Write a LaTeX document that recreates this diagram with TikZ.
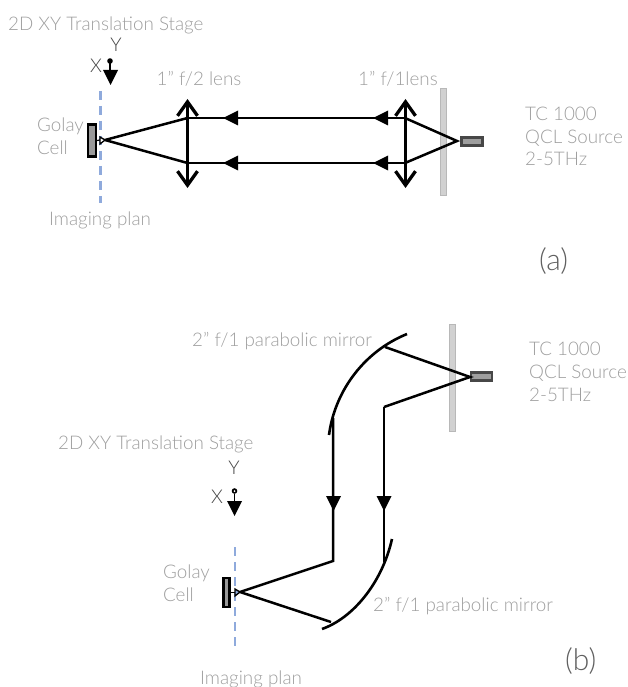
\documentclass[tikz,border=0pt]{standalone}
\usepackage{fontspec}
\setmainfont{Lato Light}
\usetikzlibrary{arrows.meta}
\definecolor{lbl}{HTML}{9E9E9E}
\definecolor{axl}{HTML}{444444}
\definecolor{plane}{HTML}{8FAADC}
\tikzset{
 lab/.style={text=lbl,font=\fontsize{18.8}{22.7}\selectfont,inner sep=0pt,anchor=west,align=left},
 axlab/.style={text=axl,font=\fontsize{19}{20}\selectfont,inner sep=0pt},
 panel/.style={text=axl!85,font=\fontsize{30}{32}\selectfont,inner sep=0pt,anchor=west},
 beam/.style={draw=black,line width=2.5pt},
 lensline/.style={draw=black,line width=3.6pt,{Straight Barb[length=14pt,width=20pt,line width=3.3pt]}-{Straight Barb[length=14pt,width=20pt,line width=3.3pt]}},
 mirror/.style={draw=black,line width=2.6pt},
 filter/.style={draw=black!28,fill=black!18,line width=1.6pt},
 srcbox/.style={draw=black!72,fill=black!38,line width=2.2pt},
 detbox/.style={draw=black,fill=black!40,line width=2.2pt},
 plan/.style={draw=plane,line width=2.6pt,dash pattern=on 9pt off 6pt},
}
\begin{document}
\begin{tikzpicture}[x=1pt,y=-1pt]
\useasboundingbox (0,0) rectangle (627,687);
% ---------- panel (a)
\node[lab] (stageA) at (8,25) {2D XY Translation Stage};
\node[axlab] (yA) at (116,45) {Y};
\node[axlab] (xA) at (96,66) {X};
\coordinate (dotA) at (110,61);
\coordinate (headA) at (110,70);
\fill (dotA) circle (2.8pt);
\draw[line width=1.5pt] (dotA) -- (headA);
\fill (103,70) -- (118,70) -- (110.5,85) -- cycle;
\draw[plan] (100.5,91) -- (100.5,203);
\node[lab] (golayA) at (37,136.5) {Golay\\Cell};
\node[lab] (planA) at (49,220.5) {Imaging plan};
\node[lab] (lensAl) at (156.5,79) {1” f/2 lens};
\node[lab] (lensAr) at (358,79) {1” f/1lens};
\node[lab] (srcA) at (525,136.5) {TC 1000\\QCL Source\\2-5THz};
\node[panel] (a) at (539,261) {(a)};
\node[filter,minimum width=6pt,minimum height=107pt,inner sep=0pt] (barA) at (443.5,142) {};
\node[srcbox,minimum width=21pt,minimum height=8pt,inner sep=0pt] (sourceA) at (472,141.5) {};
\node[detbox,minimum width=8pt,minimum height=32pt,inner sep=0pt] (detA) at (92,140.5) {};
\coordinate (apexA) at (105,140);
\coordinate (srcApexA) at (457,141);
\coordinate (l1t) at (187.5,118);\coordinate (l1b) at (187.5,163);
\coordinate (l2t) at (405,118);\coordinate (l2b) at (405,163);
\draw[lensline] (187.5,99) -- (187.5,188);
\draw[lensline] (405.5,99) -- (405.5,188);
\draw[beam] (l1t) -- (apexA) -- (l1b);
\draw[beam] (l2t) -- (srcApexA) -- (l2b);
\draw[beam] (l2t) -- (l1t);
\draw[beam] (l2b) -- (l1b);
\fill (238,110.5) -- (238,125.5) -- (223,118) -- cycle;
\fill (238,155.5) -- (238,170.5) -- (223,163) -- cycle;
\fill (388,110.5) -- (388,125.5) -- (373,118) -- cycle;
\fill (388,155.5) -- (388,170.5) -- (373,163) -- cycle;
\draw[line width=1.3pt,fill=white] (100,137) -- (100,144) -- (105,140) -- cycle;
\draw[line width=1.2pt] (detA.east) -- (100,140);
% ---------- panel (b)
\node[lab] (mirB1) at (192,341) {2” f/1 parabolic mirror};
\node[lab] (srcB) at (529,372) {TC 1000\\QCL Source\\2-5THz};
\node[lab] (stageB) at (58,444) {2D XY Translation Stage};
\node[axlab] (yB) at (234,468) {Y};
\node[axlab] (xB) at (217,497) {X};
\coordinate (dotB) at (234.5,491);
\coordinate (headB) at (234.5,501);
\fill (dotB) circle (2.8pt);
\fill[white] (dotB) circle (1pt);
\draw[line width=1.5pt] (234.5,494) -- (headB);
\fill (227,501) -- (242,501) -- (234.5,516) -- cycle;
\draw[plan] (235,547) -- (235,651);
\node[lab] (golayB) at (163,583.5) {Golay\\Cell};
\node[lab] (planB) at (200,679) {Imaging plan};
\node[lab] (mirB2) at (373,606) {2” f/1 parabolic mirror};
\node[panel] (b) at (565,661) {(b)};
\node[filter,minimum width=6pt,minimum height=107pt,inner sep=0pt] (barB) at (452.5,378) {};
\node[srcbox,minimum width=21pt,minimum height=8pt,inner sep=0pt] (sourceB) at (481.5,376.5) {};
\node[detbox,minimum width=6pt,minimum height=29pt,inner sep=0pt] (detB) at (226.5,592.5) {};
\coordinate (srcApexB) at (470,377);
\coordinate (m1t) at (385,347);\coordinate (m1b) at (384,407);
\coordinate (upL) at (333,418);
\coordinate (lowL) at (333,561);\coordinate (lowR) at (384,562);
\coordinate (apexB) at (240,592);
\coordinate (m2) at (331,622);
\draw[mirror] (407,334) .. controls (365,351) and (335,390) .. (329,435);
\draw[mirror] (392,539) .. controls (382,583) and (353,618) .. (322,629);
\draw[beam] (m1t) -- (srcApexB) -- (m1b);
\draw[beam] (m1b) -- (lowR);
\draw[beam,line join=miter] (upL) -- (lowL) -- (apexB) -- (m2);
\fill (326,496) -- (341,496) -- (333.5,511) -- cycle;
\fill (376.5,496) -- (391.5,496) -- (384,511) -- cycle;
\draw[line width=1.3pt,fill=plane] (235,589) -- (235,596) -- (240,592) -- cycle;
\draw[line width=1.2pt] (detB.east) -- (235,592.5);
\end{tikzpicture}
\end{document}
